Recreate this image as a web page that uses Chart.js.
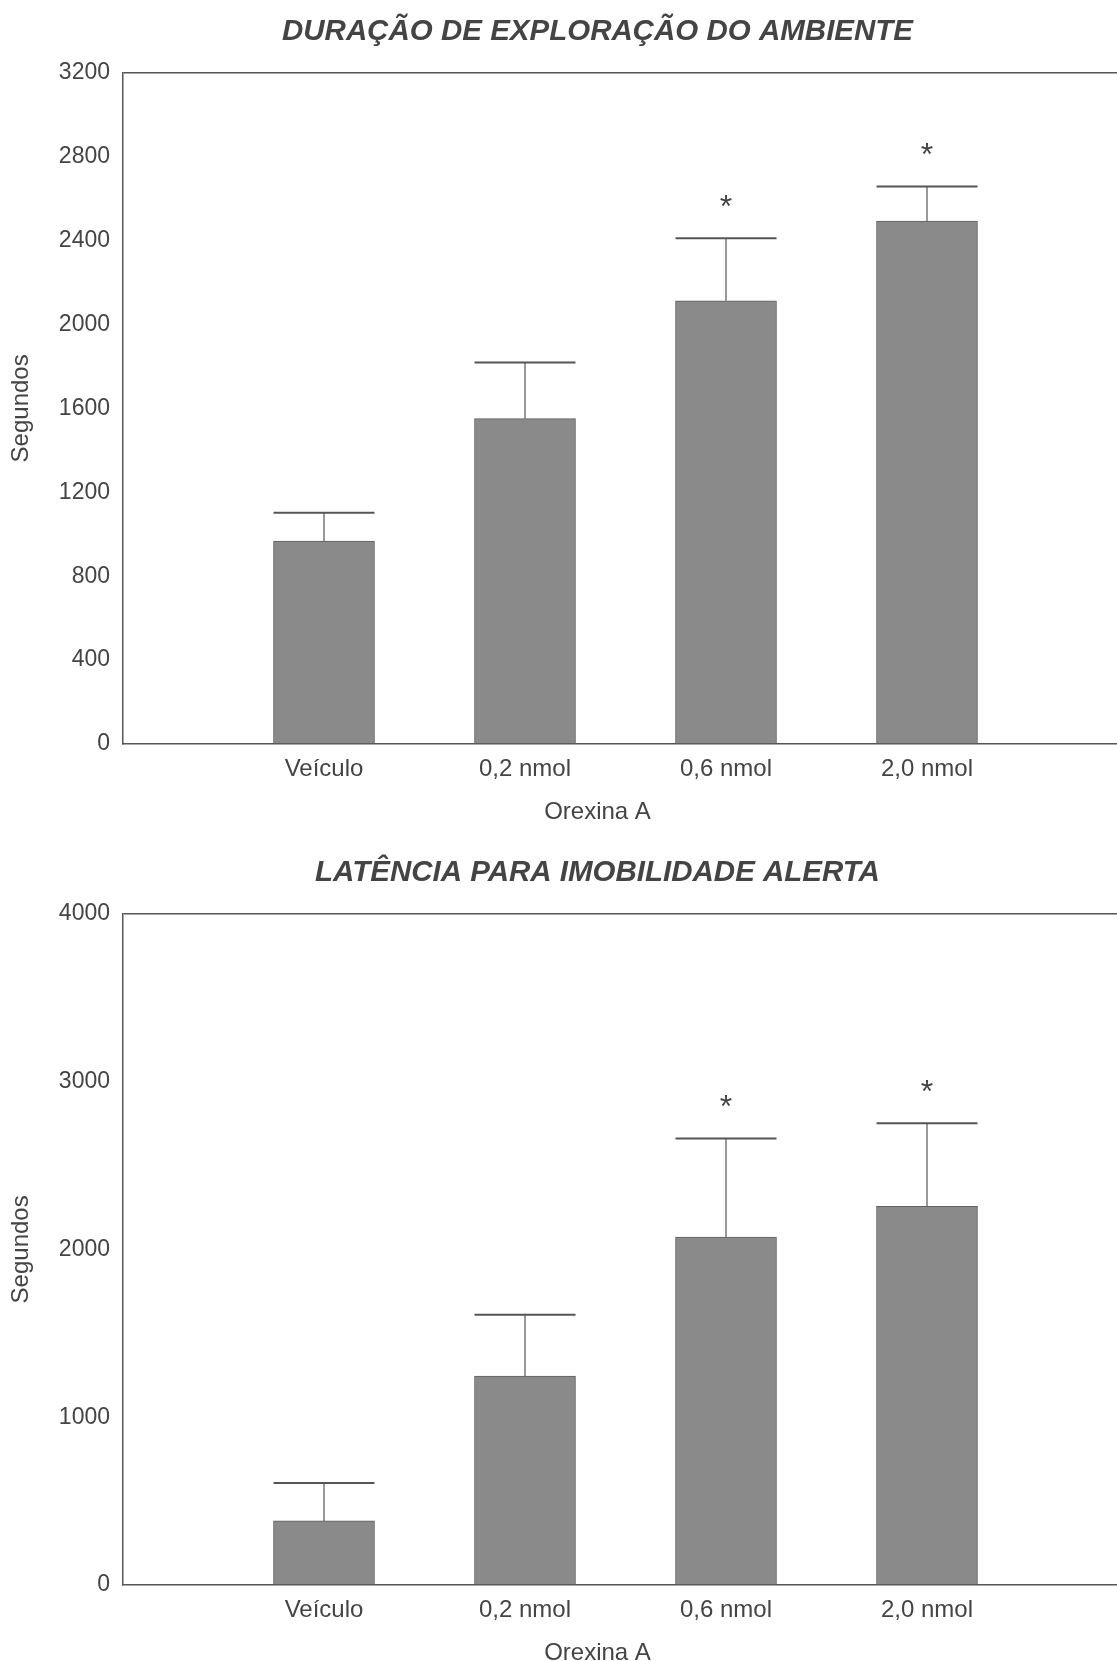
<!DOCTYPE html>
<html>
<head>
<meta charset="utf-8">
<script src="https://cdn.jsdelivr.net/npm/chart.js@4.4.1/dist/chart.umd.min.js"></script>
<style>
  html, body { margin: 0; padding: 0; background: #ffffff; overflow: hidden; width: 1117px; height: 1661px; }
  .wrap { position: absolute; left: 0; width: 1195px; height: 842px; }
  #w1 { top: 0; }
  #w2 { top: 841px; }
  canvas { display: block; }
</style>
</head>
<body>
<div class="wrap" id="w1"><canvas id="c1"></canvas></div>
<div class="wrap" id="w2"><canvas id="c2"></canvas></div>
<script>
// ---------- data ----------
const categories = ['', 'Veículo', '0,2 nmol', '0,6 nmol', '2,0 nmol', ''];

const explorationTitle = 'DURAÇÃO DE EXPLORAÇÃO DO AMBIENTE';
const explorationMeans = [null, 967, 1551, 2113, 2493, null];
const explorationErrors = [null, 135, 268, 298, 165, null];
const explorationMarks = ['', '', '', '*', '*', ''];
const explorationTicks = [0, 400, 800, 1200, 1600, 2000, 2400, 2800, 3200];

const latencyTitle = 'LATÊNCIA PARA IMOBILIDADE ALERTA';
const latencyMeans = [null, 382, 1245, 2073, 2256, null];
const latencyErrors = [null, 226, 365, 588, 495, null];
const latencyMarks = ['', '', '', '*', '*', ''];
const latencyTicks = [0, 1000, 2000, 3000, 4000];

const yAxisLabel = 'Segundos';
const xAxisLabel = 'Orexina A';

// ---------- styling ----------
const FONT = "'Liberation Sans', Arial, Helvetica, sans-serif";
const TEXT = '#444444';
const AXIS = '#555555';

const errorBarPlugin = {
  id: 'errorBars',
  afterDatasetsDraw(chart, args, opts) {
    const ctx = chart.ctx;
    const meta = chart.getDatasetMeta(0);
    const yScale = chart.scales.y;
    ctx.save();
    ctx.strokeStyle = AXIS;
    meta.data.forEach((bar, i) => {
      const m = opts.means[i];
      const e = opts.errors[i];
      if (m === null || e === null) return;
      const half = bar.width / 2;
      const yTop = yScale.getPixelForValue(m + e);
      const yBar = yScale.getPixelForValue(m);
      ctx.lineWidth = 1.2;
      ctx.beginPath();
      ctx.moveTo(bar.x, yBar);
      ctx.lineTo(bar.x, yTop);
      ctx.stroke();
      ctx.lineWidth = 2;
      ctx.beginPath();
      ctx.moveTo(bar.x - half, yTop);
      ctx.lineTo(bar.x + half, yTop);
      ctx.stroke();
      const mark = opts.marks[i];
      if (mark) {
        const size = 32;
        ctx.fillStyle = TEXT;
        ctx.font = size + 'px ' + FONT;
        ctx.textAlign = 'center';
        ctx.textBaseline = 'alphabetic';
        ctx.fillText(mark, bar.x, yTop - 40 + 0.58 * size);
      }
    });
    ctx.restore();
  }
};

function makeChart(canvasId, title, means, errors, marks, ticks) {
  const yMax = ticks[ticks.length - 1];
  return new Chart(document.getElementById(canvasId), {
    type: 'bar',
    data: {
      labels: categories,
      datasets: [{
        data: means,
        backgroundColor: '#8a8a8a',
        borderColor: '#5f5f5f',
        borderWidth: 1,
        borderSkipped: 'bottom',
        barThickness: 101
      }]
    },
    options: {
      responsive: true,
      maintainAspectRatio: false,
      animation: false,
      events: [],
      layout: { padding: 0 },
      plugins: {
        legend: { display: false },
        tooltip: { enabled: false },
        title: {
          display: true,
          text: title,
          color: TEXT,
          font: { family: FONT, size: 29.5, weight: 'bold', style: 'italic' },
          padding: { top: 14.5, bottom: 22.8 }
        },
        subtitle: {
          display: true,
          position: 'bottom',
          text: xAxisLabel,
          color: TEXT,
          font: { family: FONT, size: 24 },
          padding: { top: 13.6, bottom: 15.6 }
        },
        errorBars: { means: means, errors: errors, marks: marks }
      },
      scales: {
        x: {
          type: 'category',
          offset: false,
          afterFit: (s) => { s.height = 40; },
          grid: { display: false, drawTicks: false },
          border: { display: true, color: AXIS, width: 1.5 },
          ticks: { color: TEXT, font: { family: FONT, size: 24 }, padding: 10.6, maxRotation: 0, autoSkip: false }
        },
        y: {
          type: 'linear',
          position: 'left',
          min: 0,
          max: yMax,
          afterBuildTicks: (s) => { s.ticks = ticks.map(v => ({ value: v })); },
          afterFit: (s) => { s.width = 123; },
          grid: {
            display: true,
            drawTicks: false,
            color: (c) => (c.tick && c.tick.value === yMax) ? AXIS : 'rgba(0,0,0,0)',
            lineWidth: 1.5
          },
          border: { display: true, color: AXIS, width: 1.5 },
          ticks: {
            color: TEXT,
            font: { family: FONT, size: 23 },
            padding: 13,
            callback: (v) => String(v)
          },
          title: {
            display: true,
            text: yAxisLabel,
            color: TEXT,
            font: { family: FONT, size: 24 },
            padding: { top: 6.6, bottom: 0 }
          }
        },
        yPad: {
          type: 'linear',
          position: 'right',
          display: true,
          afterFit: (s) => { s.width = 67; },
          grid: { display: false, drawTicks: false },
          border: { display: false },
          ticks: { display: false }
        }
      }
    },
    plugins: [errorBarPlugin]
  });
}

makeChart('c1', explorationTitle, explorationMeans, explorationErrors, explorationMarks, explorationTicks);
makeChart('c2', latencyTitle, latencyMeans, latencyErrors, latencyMarks, latencyTicks);
</script>
</body>
</html>
